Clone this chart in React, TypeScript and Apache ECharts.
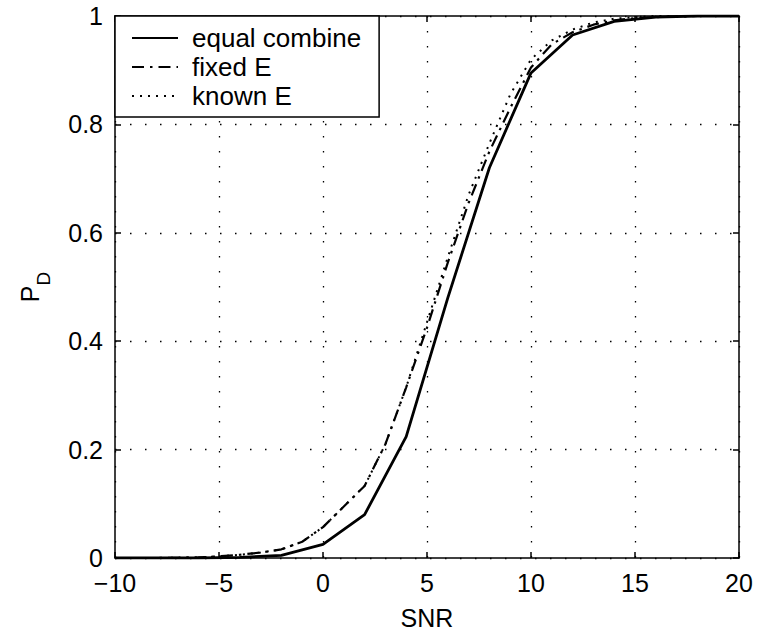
import React, { useEffect, useRef } from "react";
import * as echarts from "echarts";

const snrEqual = [-10, -8, -6, -4, -2, 0, 2, 4, 6, 8, 10, 12, 14, 16, 18, 20];
const pdEqual = [0, 0, 0, 0.001, 0.005, 0.025, 0.08, 0.224, 0.48, 0.72, 0.895, 0.965, 0.99, 0.998, 1, 1];

const snrFine = [-10, -9, -8, -7, -6, -5, -4, -3, -2, -1, 0, 1, 2, 3, 4, 5, 6, 7, 8, 9, 10, 11, 12, 13, 14, 15, 16, 17, 18, 19, 20];
const pdFixed = [0, 0, 0, 0.0005, 0.001, 0.003, 0.006, 0.01, 0.016, 0.03, 0.057, 0.095, 0.133, 0.21, 0.315, 0.425, 0.545, 0.655, 0.75, 0.83, 0.905, 0.948, 0.97, 0.984, 0.992, 0.996, 0.998, 0.999, 1, 1, 1];
const pdKnown = [0, 0, 0, 0.0005, 0.001, 0.003, 0.006, 0.01, 0.016, 0.03, 0.057, 0.095, 0.133, 0.21, 0.315, 0.435, 0.555, 0.67, 0.765, 0.855, 0.92, 0.955, 0.975, 0.988, 0.995, 0.998, 1, 1, 1, 1, 1];

const seriesNames = ["equal combine", "fixed E", "known E"];
const xTicks = { min: -10, max: 20, interval: 5 };
const yTicks = { min: 0, max: 1, interval: 0.2 };

const FONT = "'Liberation Sans', Arial, sans-serif";

function pairs(xs: number[], ys: number[]) {
  return xs.map((x, i) => [x, ys[i]]);
}

export default function App() {
  const ref = useRef<HTMLDivElement>(null);
  useEffect(() => {
    if (!ref.current) return;
    const chart = echarts.init(ref.current, undefined, { renderer: "svg" });
    const minus = (v: number) => String(v).replace("-", "\u2212");
    const grid = { left: 115, right: 18, top: 16, bottom: 73, containLabel: false, outerBoundsMode: "none" };
    const axisLine = { show: true, onZero: false, lineStyle: { color: "#000", width: 1.5 } };
    const tick = { show: true, inside: true, length: 6, lineStyle: { color: "#000", width: 1.5 } };
    const split = { show: true, lineStyle: { color: "#000", width: 1.3, type: [1.5, 13.5] as any } };
    chart.setOption({
      animation: false,
      backgroundColor: "#fff",
      grid,
      legend: {
        left: 115,
        top: 16,
        orient: "vertical",
        data: seriesNames,
        itemWidth: 46,
        itemHeight: 14,
        itemGap: 3,
        padding: [9, 18, 8, 16],
        backgroundColor: "#fff",
        borderColor: "#000",
        borderWidth: 1.5,
        borderRadius: 0,
        itemStyle: { opacity: 0 },
        textStyle: { fontFamily: FONT, fontSize: 26, color: "#000", padding: [0, 0, 0, 9] },
      },
      xAxis: [
        {
          type: "value",
          ...xTicks,
          position: "bottom",
          axisLine,
          axisTick: tick,
          splitLine: split,
          axisLabel: { color: "#000", fontFamily: FONT, fontSize: 25, margin: 12, formatter: minus },
          name: "SNR",
          nameLocation: "middle",
          nameGap: 49,
          nameTextStyle: { color: "#000", fontFamily: FONT, fontSize: 25, lineHeight: 22 },
        },
        {
          type: "value",
          ...xTicks,
          position: "top",
          axisLine,
          axisTick: tick,
          splitLine: { show: false },
          axisLabel: { show: false },
        },
      ],
      yAxis: [
        {
          type: "value",
          ...yTicks,
          position: "left",
          axisLine,
          axisTick: tick,
          splitLine: split,
          axisLabel: { color: "#000", fontFamily: FONT, fontSize: 25, margin: 12 },
          name: "{p|P}{d|D}",
          nameLocation: "middle",
          nameRotate: 90,
          nameGap: 62,
          nameTextStyle: {
            color: "#000",
            fontFamily: FONT,
            rich: {
              p: { fontSize: 25, fontFamily: FONT, color: "#000", lineHeight: 36, verticalAlign: "top" },
              d: { fontSize: 19, fontFamily: FONT, color: "#000", lineHeight: 36, verticalAlign: "bottom" },
            },
          },
        },
        {
          type: "value",
          ...yTicks,
          position: "right",
          axisLine,
          axisTick: tick,
          splitLine: { show: false },
          axisLabel: { show: false },
        },
      ],
      series: [
        {
          name: seriesNames[2],
          type: "line",
          data: pairs(snrFine, pdKnown),
          symbol: "none",
          lineStyle: { color: "#000", width: 2, type: [2, 6] as any },
          z: 2,
        },
        {
          name: seriesNames[1],
          type: "line",
          data: pairs(snrFine, pdFixed),
          symbol: "none",
          lineStyle: { color: "#000", width: 2.2, type: [12, 6, 2.5, 6] as any },
          z: 3,
        },
        {
          name: seriesNames[0],
          type: "line",
          data: pairs(snrEqual, pdEqual),
          symbol: "none",
          lineStyle: { color: "#000", width: 2.8 },
          z: 4,
        },
      ],
    });
    return () => chart.dispose();
  }, []);
  return <div ref={ref} style={{ width: 757, height: 631, position: "absolute", left: 0, top: 0 }} />;
}
